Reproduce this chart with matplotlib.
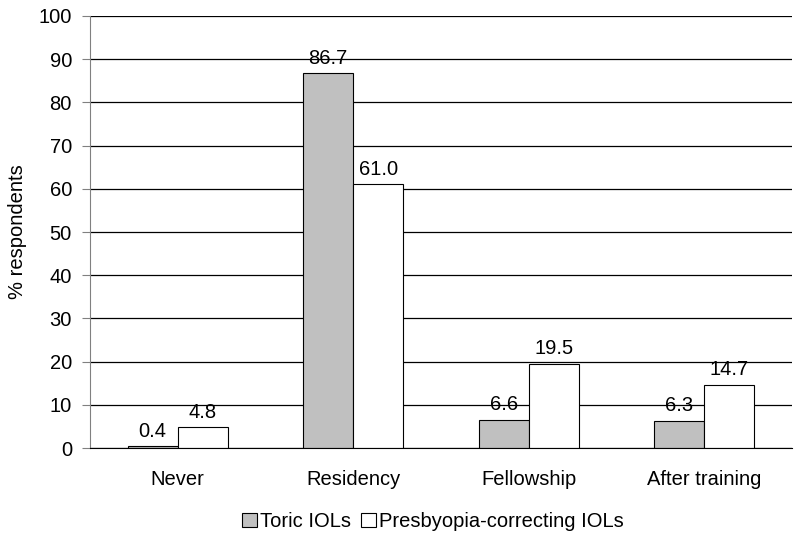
import matplotlib.pyplot as plt
import numpy as np

plt.rcParams['font.family'] = ['Liberation Sans', 'DejaVu Sans']

categories = ['Never', 'Residency', 'Fellowship', 'After training']
toric = [0.4, 86.7, 6.6, 6.3]
presby = [4.8, 61.0, 19.5, 14.7]
series_names = ['Toric IOLs', 'Presbyopia-correcting IOLs']

fs = 14.5

fig = plt.figure(figsize=(8, 5.42), dpi=100)
ax = fig.add_axes([0.1125, 0.1734, 0.8775, 0.7971])

x = np.arange(len(categories))
width = 0.286

ax.set_axisbelow(True)
ax.yaxis.grid(True, color='black', linewidth=0.9)
b1 = ax.bar(x - width / 2, toric, width=width, color='#c0c0c0', edgecolor='black', linewidth=0.8, label=series_names[0])
b2 = ax.bar(x + width / 2, presby, width=width, color='white', edgecolor='black', linewidth=0.8, label=series_names[1])

for bars in (b1, b2):
    for rect in bars:
        h = rect.get_height()
        ax.annotate('{:.1f}'.format(h), (rect.get_x() + rect.get_width() / 2, h),
                    xytext=(0, 4), textcoords='offset points',
                    ha='center', va='bottom', fontsize=fs)

ax.set_xlim(-0.5, 3.5)
ax.set_ylim(0, 100)
ax.set_yticks(np.arange(0, 101, 10))
ax.set_xticks(x)
ax.set_xticklabels(categories, fontsize=fs)
ax.tick_params(axis='y', labelsize=fs, length=6, pad=7, color='#808080')
ax.tick_params(axis='x', length=0, pad=16)
ax.set_ylabel('% respondents', fontsize=fs, labelpad=8)

for s in ['top', 'right']:
    ax.spines[s].set_visible(False)
ax.spines['left'].set_color('#808080')
ax.spines['bottom'].set_color('black')

fig.legend(handles=[b1, b2], loc='center', bbox_to_anchor=(0.541, 0.038), ncol=2, frameon=False,
           fontsize=fs, handlelength=0.75, handleheight=0.75, handletextpad=0.15, columnspacing=0.5)

fig.savefig('out.png', dpi=100)
